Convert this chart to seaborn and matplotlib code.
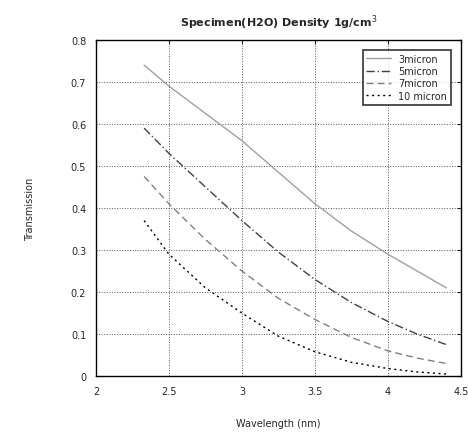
import matplotlib
matplotlib.use("Agg")
import matplotlib.pyplot as plt
import seaborn as sns
import pandas as pd
import numpy as np

wavelength = [2.33, 2.5, 2.75, 3.0, 3.25, 3.5, 3.75, 4.0, 4.2, 4.4]
t_3um = [0.74, 0.69, 0.625, 0.56, 0.485, 0.41, 0.345, 0.29, 0.25, 0.21]
t_5um = [0.59, 0.53, 0.45, 0.37, 0.295, 0.23, 0.175, 0.13, 0.10, 0.075]
t_7um = [0.475, 0.41, 0.325, 0.25, 0.185, 0.135, 0.092, 0.06, 0.043, 0.03]
t_10um = [0.37, 0.29, 0.21, 0.15, 0.095, 0.058, 0.033, 0.018, 0.01, 0.005]
labels = ["3micron", "5micron", "7micron", "10 micron"]

df = pd.DataFrame({
    "Wavelength": wavelength * 4,
    "Transmission": t_3um + t_5um + t_7um + t_10um,
    "Thickness": np.repeat(labels, len(wavelength)),
})

sns.set_style("white")
fig = plt.figure(figsize=(4.68, 4.35), dpi=100)
ax = fig.add_axes([0.205, 0.133, 0.78, 0.773])

palette = {"3micron": "#a0a0a0", "5micron": "#404040",
           "7micron": "#808080", "10 micron": "#000000"}
dashes = {"3micron": "", "5micron": (6, 2, 1, 2),
          "7micron": (5, 3), "10 micron": (1.5, 2.5)}
sns.lineplot(data=df, x="Wavelength", y="Transmission", hue="Thickness",
             style="Thickness", palette=palette, dashes=dashes,
             linewidth=1.0, ax=ax)

ax.set_xlim(2, 4.5)
ax.set_ylim(0, 0.8)
ax.set_xticks([2, 2.5, 3, 3.5, 4, 4.5])
ax.set_xticklabels(["2", "2.5", "3", "3.5", "4", "4.5"])
ax.set_yticks(np.arange(0, 0.81, 0.1))
ax.set_yticklabels(["0", "0.1", "0.2", "0.3", "0.4", "0.5", "0.6", "0.7", "0.8"])
ax.tick_params(direction="in", labelsize=7, length=3, pad=7,
               top=True, right=True)
ax.grid(True, linestyle=":", color="#555555", linewidth=0.7)
for s in ax.spines.values():
    s.set_color("black")
    s.set_linewidth(1.0)

ax.set_xlabel("Wavelength (nm)", fontsize=7, labelpad=16)
ax.set_ylabel("Transmission", fontsize=7, labelpad=26)
ax.set_title("Specimen(H2O) Density 1g/cm$^3$", fontsize=8, fontweight="bold", pad=10)

leg = ax.legend(title=None, loc="upper right", fontsize=7, frameon=True,
                fancybox=False, edgecolor="black", handlelength=2.5,
                borderaxespad=1.0, labelspacing=0.25)
leg.get_frame().set_linewidth(1.2)

fig.savefig("out.png", dpi=100)
